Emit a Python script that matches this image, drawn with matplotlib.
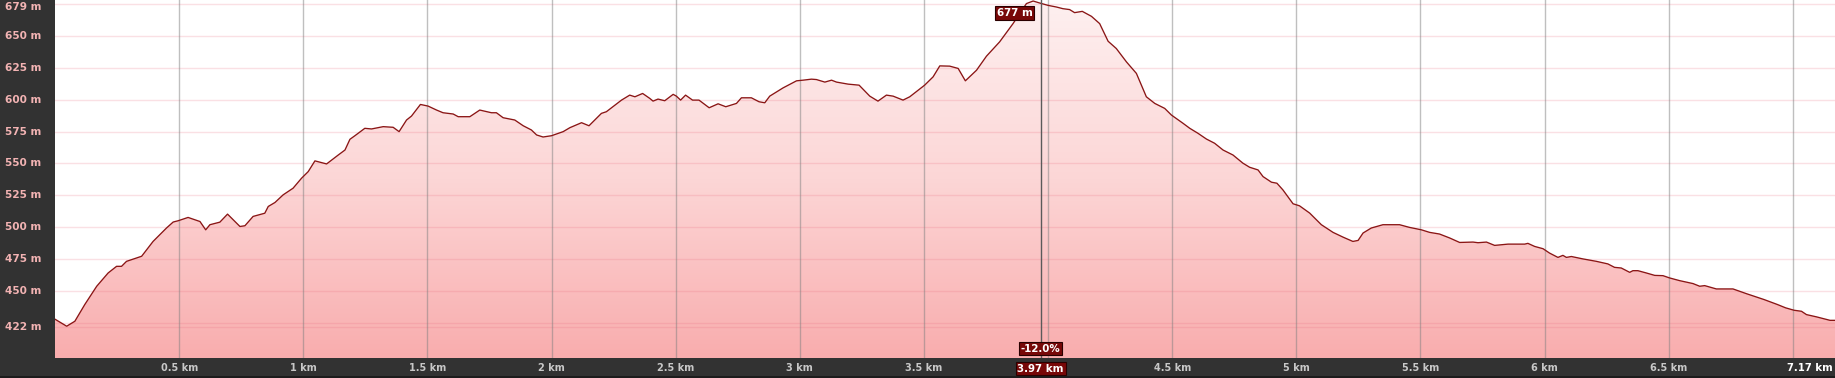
import matplotlib
matplotlib.use('Agg')
import matplotlib.pyplot as plt
import matplotlib.transforms as mtransforms
from matplotlib.colors import LinearSegmentedColormap
from matplotlib.patches import Rectangle
import numpy as np

# ---------------- data ----------------
dist_km = [0.000, 0.047, 0.080, 0.120, 0.168, 0.214, 0.248, 0.268, 0.288, 0.349,
           0.395, 0.449, 0.476, 0.496, 0.536, 0.584, 0.607, 0.624, 0.664, 0.695,
           0.745, 0.765, 0.798, 0.845, 0.859, 0.886, 0.919, 0.959, 0.993, 1.020,
           1.047, 1.094, 1.141, 1.168, 1.188, 1.208, 1.248, 1.275, 1.322, 1.362,
           1.386, 1.416, 1.436, 1.472, 1.503, 1.537, 1.563, 1.604, 1.624, 1.671,
           1.711, 1.758, 1.778, 1.805, 1.852, 1.886, 1.919, 1.940, 1.966, 2.000,
           2.047, 2.074, 2.121, 2.151, 2.201, 2.221, 2.282, 2.315, 2.336, 2.367,
           2.396, 2.409, 2.429, 2.456, 2.490, 2.503, 2.520, 2.540, 2.568, 2.594,
           2.635, 2.671, 2.702, 2.745, 2.765, 2.805, 2.836, 2.859, 2.879, 2.933,
           2.987, 3.013, 3.047, 3.067, 3.101, 3.128, 3.148, 3.195, 3.239, 3.282,
           3.315, 3.349, 3.376, 3.416, 3.443, 3.503, 3.537, 3.564, 3.604, 3.638,
           3.667, 3.712, 3.752, 3.805, 3.859, 3.913, 3.940, 3.967, 4.000, 4.034,
           4.060, 4.087, 4.107, 4.138, 4.175, 4.208, 4.242, 4.275, 4.316, 4.356,
           4.396, 4.430, 4.470, 4.497, 4.544, 4.571, 4.604, 4.638, 4.671, 4.705,
           4.745, 4.785, 4.812, 4.846, 4.866, 4.900, 4.922, 4.946, 4.987, 5.013,
           5.054, 5.101, 5.148, 5.188, 5.228, 5.249, 5.269, 5.302, 5.349, 5.416,
           5.456, 5.504, 5.537, 5.577, 5.618, 5.658, 5.712, 5.732, 5.766, 5.799,
           5.853, 5.920, 5.933, 5.960, 5.994, 6.020, 6.054, 6.074, 6.088, 6.108,
           6.155, 6.209, 6.255, 6.282, 6.309, 6.343, 6.356, 6.376, 6.410, 6.444,
           6.477, 6.504, 6.544, 6.598, 6.625, 6.645, 6.692, 6.759, 6.813, 6.884,
           6.938, 6.971, 7.005, 7.035, 7.055, 7.096, 7.150, 7.170]

elev_m = [428.0, 422.5, 426.4, 439.5, 453.8, 464.2, 469.4, 469.4, 473.3, 477.3,
          488.9, 499.4, 504.1, 505.1, 507.7, 504.5, 498.0, 502.0, 504.0, 510.3,
          500.6, 501.2, 508.5, 511.0, 516.3, 519.4, 525.4, 530.6, 538.4, 543.6,
          552.0, 549.6, 556.6, 560.5, 568.9, 571.7, 577.5, 577.0, 578.8, 578.3,
          574.9, 584.0, 587.1, 596.2, 594.9, 591.8, 589.7, 588.7, 586.6, 586.6,
          591.8, 589.7, 589.7, 585.8, 584.0, 579.5, 576.2, 572.3, 570.7, 571.7,
          574.9, 578.0, 581.9, 579.5, 589.2, 590.5, 599.6, 603.5, 602.2, 604.8,
          600.9, 598.8, 600.4, 599.1, 604.1, 602.7, 599.6, 603.5, 599.6, 599.6,
          593.6, 596.7, 594.4, 597.0, 601.4, 601.4, 598.3, 597.5, 602.7, 609.2,
          614.7, 615.2, 616.0, 615.7, 613.7, 615.2, 613.7, 612.1, 611.3, 602.7,
          598.8, 603.5, 602.7, 599.6, 602.2, 611.3, 617.8, 626.4, 626.2, 624.4,
          614.7, 623.0, 634.0, 645.2, 659.5, 675.2, 677.2, 675.6, 673.8, 672.5,
          671.2, 670.5, 668.1, 669.1, 665.2, 659.5, 645.7, 640.0, 629.5, 620.5,
          602.2, 597.0, 593.1, 587.9, 581.4, 577.5, 573.6, 569.1, 565.8, 560.5,
          556.6, 550.2, 547.0, 544.9, 539.7, 535.3, 534.5, 529.3, 518.4, 516.8,
          511.1, 502.0, 496.0, 492.3, 488.9, 489.7, 495.5, 499.4, 502.0, 502.0,
          499.9, 498.0, 496.0, 494.7, 491.6, 488.1, 488.4, 487.9, 488.4, 485.8,
          486.8, 486.8, 487.4, 485.0, 483.2, 479.8, 476.4, 478.0, 476.4, 477.1,
          475.2, 473.3, 471.3, 468.6, 468.1, 464.7, 466.0, 466.0, 464.2, 462.3,
          462.1, 460.3, 458.2, 455.9, 453.8, 454.3, 451.7, 451.7, 448.0, 443.4,
          439.5, 436.9, 435.0, 434.2, 431.6, 429.8, 427.1, 427.1]

y_tick_values = [450, 475, 500, 525, 550, 575, 600, 625, 650]
y_grid_values = [422, 425, 450, 475, 500, 525, 550, 575, 600, 625, 650, 675]
y_min_label = "422 m"
y_max_label = "679 m"
x_tick_values = [0.5, 1, 1.5, 2, 2.5, 3, 3.5, 4.5, 5, 5.5, 6, 6.5]
x_tick_labels = ["0.5 km", "1 km", "1.5 km", "2 km", "2.5 km", "3 km", "3.5 km",
                 "4.5 km", "5 km", "5.5 km", "6 km", "6.5 km"]
x_grid_values = [0.5, 1, 1.5, 2, 2.5, 3, 3.5, 4, 4.5, 5, 5.5, 6, 6.5, 7]
total_km = 7.17
total_label = "7.17 km"
cursor_km = 3.97
cursor_elev_label = "677 m"
cursor_grade_label = "-12.0%"
cursor_dist_label = "3.97 km"

# ---------------- figure ----------------
W, H = 1835, 378
Y_LO, Y_HI = 397.6, 678.0
fig = plt.figure(figsize=(W / 100, H / 100), dpi=100, facecolor='#323232')
fig.patches.append(Rectangle((0, 0), 1, 2.5 / H, transform=fig.transFigure,
                             fc='#1c1c1c', ec='none', zorder=0))
ax = fig.add_axes([55 / W, 20 / H, 1780 / W, 358 / H])
ax.set_xlim(0, total_km)
ax.set_ylim(Y_LO, Y_HI)
ax.set_facecolor('white')
for s in ax.spines.values():
    s.set_visible(False)
ax.set_xticks([])
ax.set_yticks([])

# gradient area
poly = ax.fill_between(dist_km, elev_m, Y_LO, color='none', lw=0)
grad = np.linspace(0, 1, 256).reshape(-1, 1)
cmap = LinearSegmentedColormap.from_list('g', ['#fef0f0', '#fcd6d6', '#f9adae'])
im = ax.imshow(grad, extent=[0, total_km, Y_LO, Y_HI], origin='upper',
               aspect='auto', cmap=cmap, zorder=1, interpolation='bilinear')
im.set_clip_path(poly.get_paths()[0], transform=ax.transData)

# grid
for v in y_grid_values:
    ax.axhline(v, color=(0.92, 0.45, 0.52, 0.22), lw=1.0, zorder=2)
for v in x_grid_values:
    ax.axvline(v, color=(0.5, 0.5, 0.5, 0.5), lw=1.0, zorder=2)

# profile line
ax.plot(dist_km, elev_m, color='#8a1515', lw=0.95, zorder=3)

# cursor
ax.axvline(cursor_km, color='#5a5a5a', lw=1.0, zorder=3)

# y labels in left panel
ytrans = mtransforms.blended_transform_factory(fig.transFigure, ax.transData)
ylab_kw = dict(color='#f2b3b3', fontsize=7.6, fontweight='bold', ha='left', va='center',
               family='DejaVu Sans')
for v in y_tick_values:
    fig.text(5 / W, v, f"{v} m", transform=ytrans, **ylab_kw)
fig.text(5 / W, 422, y_min_label, transform=ytrans, **ylab_kw)
ytrans2 = mtransforms.blended_transform_factory(fig.transFigure, ax.transAxes)
fig.text(5 / W, 1 - 6.5 / 358, y_max_label, transform=ytrans2, **ylab_kw)

# x labels in bottom bar
xtrans = mtransforms.blended_transform_factory(ax.transData, fig.transFigure)
for v, lab in zip(x_tick_values, x_tick_labels):
    fig.text(v, 10 / H, lab, transform=xtrans, color='#c8c8c8', fontsize=7.0,
             fontweight='bold', ha='center', va='center')
fig.text(1833 / W, 10 / H, total_label, color='white', fontsize=7.3,
         fontweight='bold', ha='right', va='center')

# cursor boxes
box = dict(boxstyle='square,pad=0.18', fc='#780808', ec='#2a0000', lw=0.8)
ctrans = mtransforms.blended_transform_factory(ax.transData, ax.transAxes)
ax.annotate(cursor_elev_label, xy=(cursor_km, 1.0), xycoords=ctrans,
            xytext=(-8, -13), textcoords='offset pixels', ha='right', va='center',
            color='white', fontsize=7.4, fontweight='bold', bbox=box, zorder=5)
ax.annotate(cursor_grade_label, xy=(cursor_km, 0.0), xycoords=ctrans,
            xytext=(0, 9.5), textcoords='offset pixels', ha='center', va='center',
            color='white', fontsize=7.4, fontweight='bold', bbox=box, zorder=5)
fig.text(cursor_km, 9.5 / H, cursor_dist_label, transform=xtrans, color='white',
         fontsize=7.4, fontweight='bold', ha='center', va='center', bbox=box, zorder=5)

fig.savefig('out.png', dpi=100, facecolor=fig.get_facecolor())
